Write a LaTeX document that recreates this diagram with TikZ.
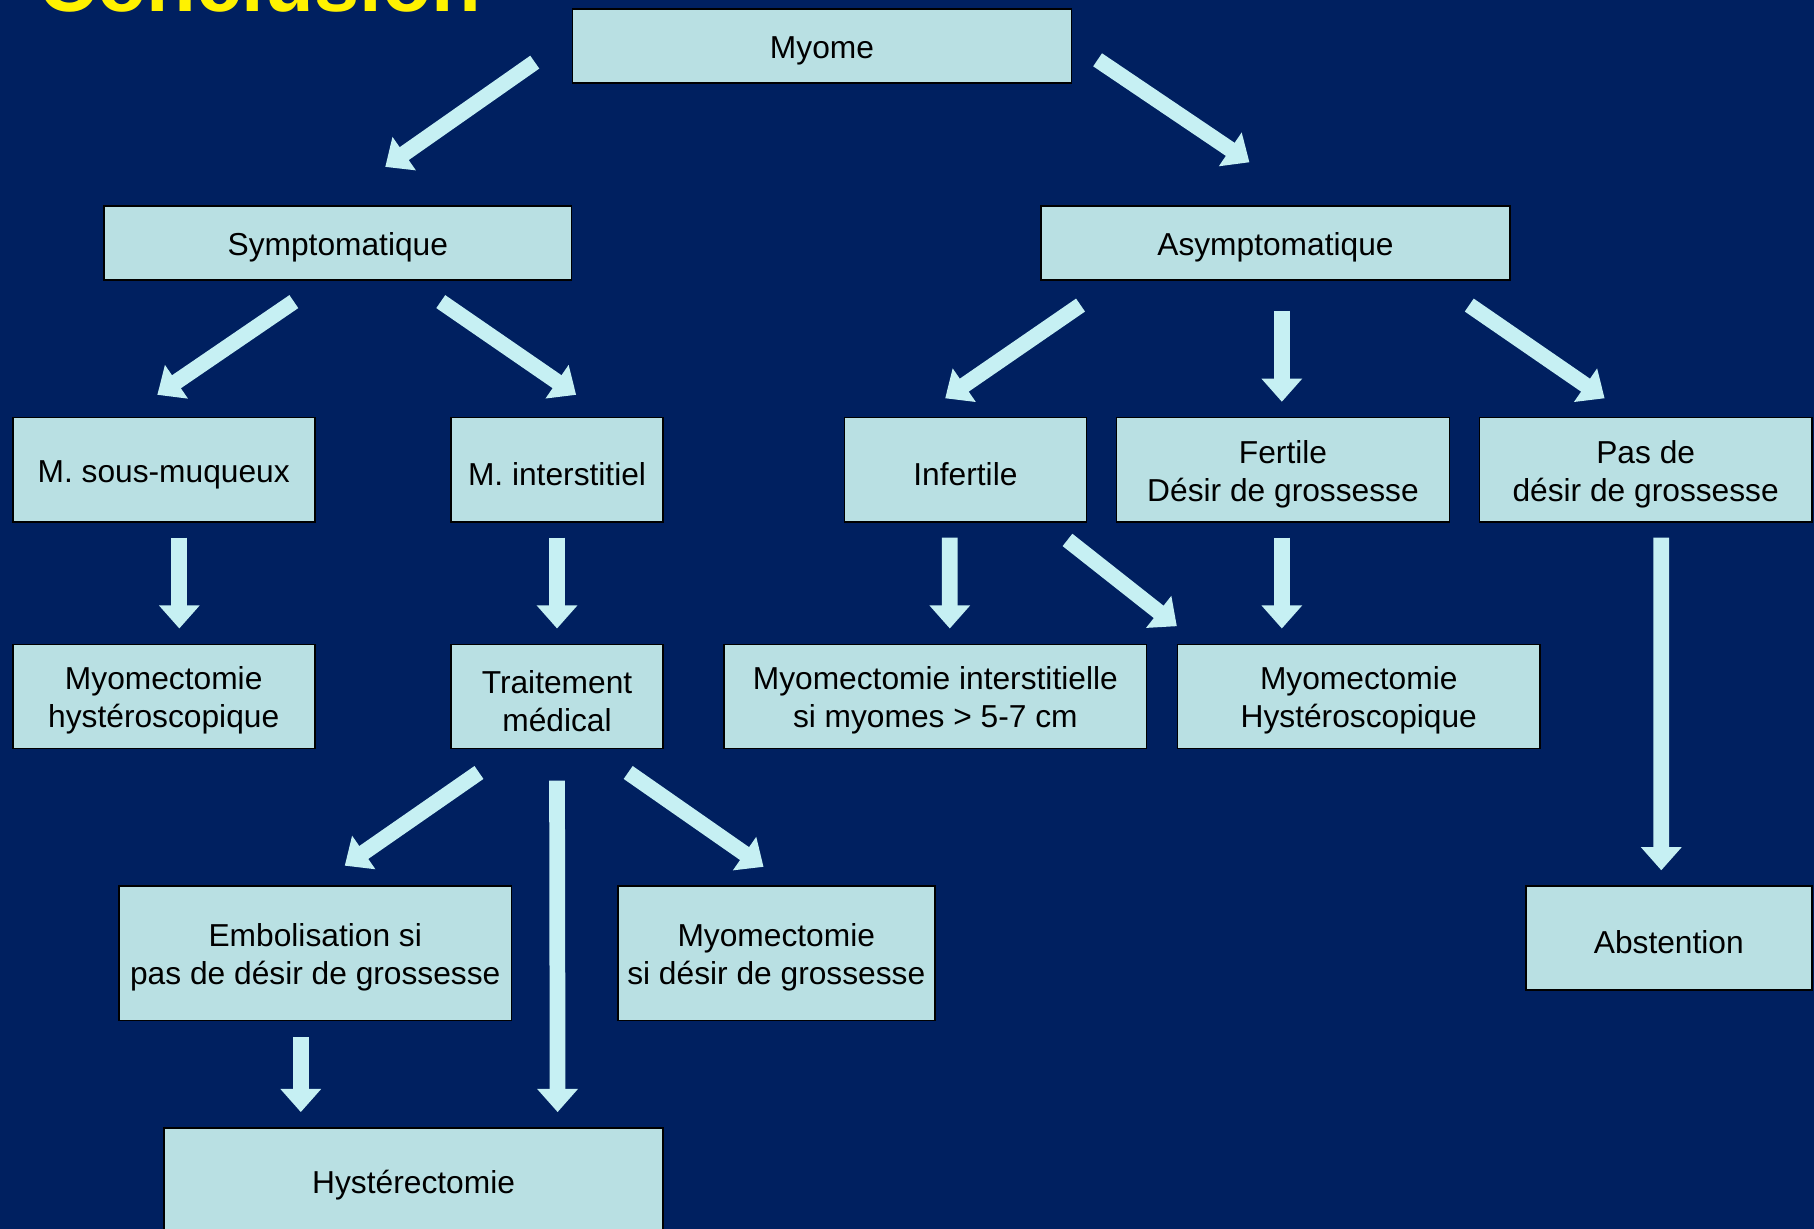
\documentclass[tikz,border=0pt]{standalone}
\usepackage{fontspec}
\setmainfont{Liberation Sans}
\usetikzlibrary{arrows.meta}
\definecolor{slidebg}{RGB}{0,32,96}
\definecolor{boxfill}{RGB}{185,224,227}
\definecolor{arrfill}{RGB}{198,240,243}
\tikzset{
  box/.style={draw=black,fill=boxfill,line width=1pt,align=center,inner sep=2pt,
    execute at begin node={\rule{0pt}{19.2pt}},font=\fontsize{19.5}{23.4}\selectfont},
  twoln/.style={box,text height=42.8pt},   % two-line boxes
  bigarr/.style={draw=arrfill,line width=0.34cm,
    -{Triangle[length=0.5cm,width=0.85cm]}},   % block arrow
  ttl/.style={text=yellow,font=\fontsize{50}{55}\selectfont\bfseries},
}

\begin{document}
\begin{tikzpicture}[x=0.025cm,y=-0.025cm]
  \useasboundingbox (0,0) rectangle (1568,1062);
  \clip (0,0) rectangle (1568,1062);
  \fill[slidebg] (0,0) rectangle (1568,1062);
  % slide title, cut by the top edge
  \node[ttl,anchor=base west,inner sep=0pt] (title) at (33,10) {Conclusion};
  % level 0 and 1
  \node[box,minimum width=10.775cm,minimum height=1.6cm] (myome) at (710.5,40) {Myome};
  \node[box,minimum width=10.1cm,minimum height=1.6cm] (sympt) at (292,210) {Symptomatique};
  \node[box,minimum width=10.125cm,minimum height=1.6cm] (asympt) at (1102.5,210) {Asymptomatique};
  % level 2
  \node[box,minimum width=6.525cm,minimum height=2.25cm] (sousmuq) at (141.5,406) {M. sous-muqueux};
  \node[box,minimum width=4.575cm,minimum height=2.25cm] (interst) at (481.5,406) {M. interstitiel};
  \node[box,minimum width=5.225cm,minimum height=2.25cm] (infert) at (834.5,406) {Infertile};
  \node[twoln,minimum width=7.2cm,minimum height=2.25cm] (fert) at (1109,406) {Fertile\\Désir de grossesse};
  \node[twoln,minimum width=7.175cm,minimum height=2.25cm] (pasdesir) at (1422.5,406) {Pas de\\désir de grossesse};
  % level 3
  \node[twoln,minimum width=6.525cm,minimum height=2.25cm] (myohyst) at (141.5,602) {Myomectomie\\hystéroscopique};
  \node[twoln,minimum width=4.575cm,minimum height=2.25cm] (traitmed) at (481.5,602) {Traitement\\médical};
  \node[twoln,minimum width=9.125cm,minimum height=2.25cm] (myointer) at (808.5,602) {Myomectomie interstitielle\\si myomes > 5-7 cm};
  \node[twoln,minimum width=7.825cm,minimum height=2.25cm] (myoHyst) at (1174.5,602) {Myomectomie\\Hystéroscopique};
  % level 4
  \node[twoln,minimum width=8.475cm,minimum height=2.9cm] (embol) at (272.5,824) {Embolisation si\\pas de désir de grossesse};
  \node[twoln,minimum width=6.85cm,minimum height=2.9cm] (myomec) at (671,824) {Myomectomie\\si désir de grossesse};
  \node[box,minimum width=6.175cm,minimum height=2.25cm] (abst) at (1442.5,811) {Abstention};
  \node[box,minimum width=10.775cm,minimum height=2.3cm] (hyster) at (357.5,1021) {Hystérectomie};
  % block arrows
  \draw[bigarr] ([shift={(-32,-19)}]myome.south west) -- ([shift={(41,-33)}]sympt.north);
  \draw[bigarr] ([shift={(22,-21)}]myome.south east) -- ([shift={(-22.5,-37)}]asympt.north);
  \draw[bigarr] ([shift={(-38,18)}]sympt.south) -- ([shift={(-5.5,-19)}]sousmuq.north);
  \draw[bigarr] ([shift={(89,18)}]sympt.south) -- ([shift={(16.5,-19)}]interst.north);
  \draw[bigarr] ([shift={(-168.5,21)}]asympt.south) -- ([shift={(-17.5,-16)}]infert.north);
  \draw[bigarr] ([shift={(5.5,26)}]asympt.south) -- ([shift={(-1,-13)}]fert.north);
  \draw[bigarr] ([shift={(167.5,21)}]asympt.south) -- ([shift={(-35.5,-16)}]pasdesir.north);
  \draw[bigarr] ([shift={(13.5,13)}]sousmuq.south) -- ([shift={(13.5,-13)}]myohyst.north);
  \draw[bigarr] ([shift={(0,13)}]interst.south) -- ([shift={(0,-13)}]traitmed.north);
  \draw[bigarr] ([shift={(-13.5,13)}]infert.south) -- ([shift={(12.5,-13)}]myointer.north);
  \draw[bigarr] ([shift={(-17,15)}]infert.south east) -- ([shift={(0,-15)}]myoHyst.north west);
  \draw[bigarr] ([shift={(-1,13)}]fert.south) -- ([shift={(-66.5,-13)}]myoHyst.north);
  \draw[bigarr] ([shift={(13.5,13)}]pasdesir.south) -- ([shift={(-6.5,-13)}]abst.north);
  \draw[bigarr] ([shift={(-67.5,20)}]traitmed.south) -- ([shift={(25.5,-17)}]embol.north);
  \draw[bigarr] ([shift={(0,27)}]traitmed.south) -- ([shift={(124.5,-13)}]hyster.north);
  \draw[bigarr] ([shift={(61.5,20)}]traitmed.south) -- ([shift={(-11,-16)}]myomec.north);
  \draw[bigarr] ([shift={(-12.5,14)}]embol.south) -- ([shift={(-97.5,-13)}]hyster.north);
\end{tikzpicture}
\end{document}
